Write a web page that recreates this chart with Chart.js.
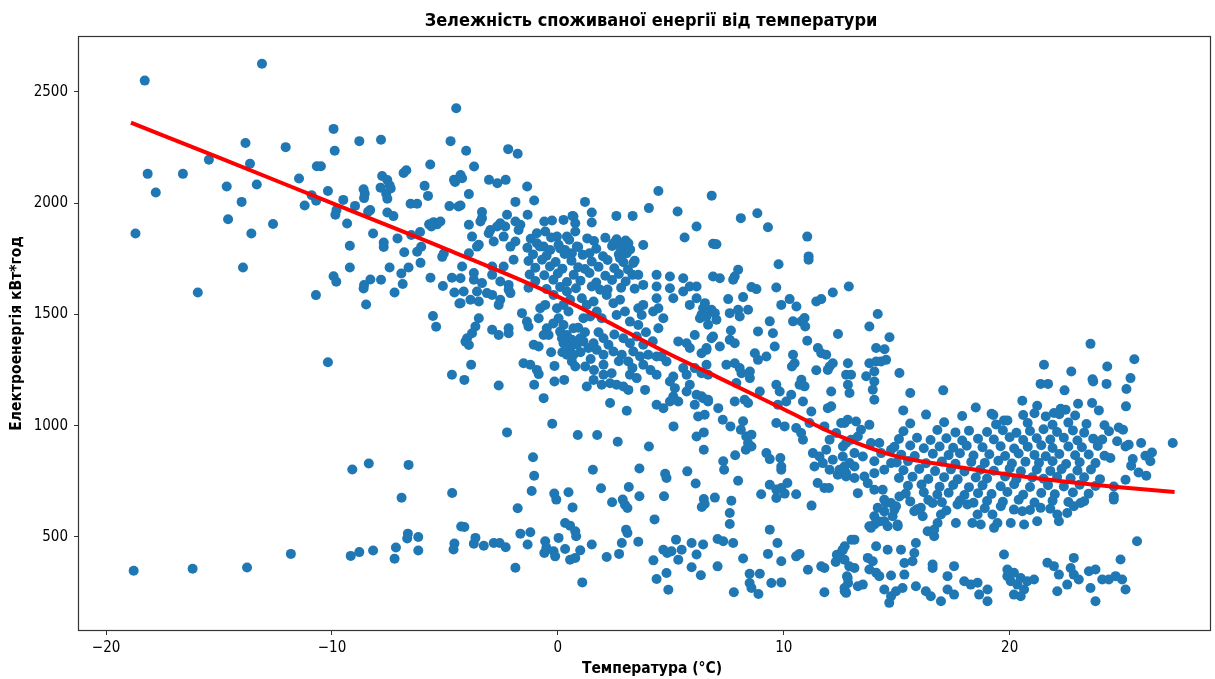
<!DOCTYPE html>
<html>
<head>
<meta charset="utf-8">
<script src="https://cdn.jsdelivr.net/npm/chart.js@4.4.0/dist/chart.umd.min.js"></script>
<style>
  html, body { margin: 0; padding: 0; background: #fff; }
  #wrap { width: 1215px; height: 679px; }
</style>
</head>
<body>
<div id="wrap"><canvas id="chart" width="1215" height="679"></canvas></div>
<script>
// Texts
const titleText = 'Зележність споживаної енергії від температури';
const xAxisLabel = 'Температура (°C)';
const yAxisLabel = 'Електроенергія кВт*год';

// Tick values
const xTicks = [-20, -10, 0, 10, 20];
const yTicks = [500, 1000, 1500, 2000, 2500];

// Fitted trend curve: temperature (°C) -> energy (kWh)
const fitTemp   = [-18.9, -15, -10, -5, 0, 5, 7, 10, 12.5, 15, 17.5, 20, 22.5, 25, 27.3];
const fitEnergy = [2362, 2205, 2000, 1796, 1580, 1319, 1222, 1074, 952, 862, 818, 780, 748, 722, 702];

// Observations: [temperature °C, energy kWh]
const readingsCold = [
  [-18.29,2551],[-13.1,2627],[-4.5,2427],[-9.93,2334],[-13.83,2271],[-12.05,2252],[-8.79,2279],[-7.83,2285],
  [-9.88,2236],[-4.75,2279],[-15.45,2195],[-13.63,2177],[-18.16,2132],[-16.6,2132],[-17.8,2048],[-14.66,2075],
  [-13.33,2084],[-14.0,2006],[-14.6,1928],[-13.57,1864],[-12.61,1907],[-18.7,1864],[-13.94,1711],[-15.94,1599],
  [-10.71,1587],[-11.46,2111],[-10.67,2166],[-10.49,2166],[-10.18,2055],[-11.21,1990],[-10.9,2036],[-10.7,2011],
  [-9.5,2015],[-9.8,1969],[-9.85,1948],[-9.33,1909],[-9.21,1809],[-9.21,1711],[-9.93,1672],[-9.81,1647],
  [-8.98,1988],[-8.6,2063],[-8.55,2043],[-8.58,2023],[-8.31,1969],[-8.4,1962],[-8.18,1864],[-8.3,1657],
  [-8.58,1632],[-8.6,1617],[-8.49,1545],[-7.83,1656],[-7.78,2122],[-7.55,2104],[-7.85,2070],[-7.45,2081],
  [-7.6,2043],[-7.55,2020],[-7.4,2066],[-7.55,1958],[-7.28,1942],[-7.71,1823],[-7.71,1803],[-7.1,1842],
  [-6.8,1780],[-7.45,1711],[-6.61,1711],[-6.93,1684],[-6.87,1637],[-7.23,1599],[-6.83,2136],[-6.71,2148],
  [-6.52,1998],[-6.23,1998],[-5.65,2174],[-5.9,2078],[-5.75,2033],[-4.8,1987],[-5.7,1905],[-5.5,1915],
  [-5.35,1905],[-5.2,1918],[-5.6,1895],[-6.49,1857],[-6.1,1871],[-6.23,1782],[-6.05,1804],[-6.08,1732],
  [-5.05,1774],[-5.12,1759],[-5.64,1665],[-5.09,1628],[-4.69,1665],[-4.58,1599],[-4.36,1549],[-5.53,1493],
  [-5.39,1445],[-4.55,2095],[-4.6,2105],[-4.4,1985],
  [-10.18,1285],[-4.69,1229],[-9.1,803],[-8.37,830],[-6.61,824],[-6.92,676],[-4.68,698],[-18.78,348],
  [-16.17,357],[-13.76,363],[-11.82,424],[-9.17,415],[-8.79,432],[-8.18,439],[-7.17,453],[-7.23,402],
  [-6.64,515],[-6.67,493],[-6.18,500],[-6.18,439],[-4.58,471],[-4.62,444],[-4.28,547]
];

const readingsMild = [
  [-4.06,2236],[-2.2,2243],[-1.78,2222],[-3.71,2165],[-4.31,2127],[-4.24,2112],[-3.05,2105],[-2.68,2090],
  [-2.31,2105],[-1.36,2075],[-3.94,2041],[-4.31,1990],[-1.88,2006],[-1.05,2012],[1.2,2006],[4.45,2055],
  [4.03,1978],[5.3,1963],[6.81,2034],[6.14,1895],[5.61,1846],[6.87,1818],[2.59,1943],[3.31,1943],
  [3.78,1812],[1.5,1958],[1.5,1913],[0.65,1943],[-1.34,1948],[-3.36,1960],[-3.36,1933],[-3.94,1903],
  [-3.8,1850],[-3.5,1813],
  [-2.99,1880],[-2.55,1910],[-2.25,1948],[-1.88,1918],[-1.66,1903],[-2.84,1828],[-2.4,1850],[-2.1,1805],
  [-1.88,1828],[-3.06,1865],[-2.69,1895],[-2.33,1895],[-1.74,1880],[-3.43,1918],[-3.58,1805],[-1.96,1746],
  [-2.4,1716],[-4.24,1716],[-4.31,1663],[-3.72,1686],[-3.72,1656],[-3.36,1641],[-2.91,1716],[-2.91,1678],
  [-2.55,1648],[-2.18,1633],[-3.94,1775],
  [-0.93,1865],[-0.6,1918],[-0.26,1922],[0.25,1925],[0.69,1940],[0.77,1910],[-0.56,1873],[-0.04,1850],
  [0.4,1850],[0.77,1873],[-0.93,1820],[-0.63,1805],[-0.34,1790],[0.03,1813],[0.32,1790],[0.62,1775],[0.84,1805],
  [-1.2,1840],[-0.3,1846],[0.5,1836],[1.3,1842],[1.6,1830],[2.1,1845],[2.6,1838],[3.0,1832],
  [-1.35,1800],[-0.8,1806],[0.1,1797],[0.9,1803],[1.7,1795],[2.4,1808],[2.9,1800],[3.2,1792],
  [-1.1,1770],[-0.5,1764],[0.3,1772],[1.1,1768],[1.4,1775],[2.0,1762],[2.7,1770],
  [-1.3,1740],[-0.7,1746],[-0.1,1736],[0.6,1742],[1.5,1738],[2.2,1745],[2.9,1735],[3.4,1741],
  [-1.0,1710],[-0.35,1716],[0.2,1706],[0.9,1712],[1.2,1704],[1.8,1714],[2.5,1708],[3.1,1702],
  [-1.25,1680],[-0.6,1676],[0.0,1684],[0.7,1678],[1.4,1686],[2.1,1674],[2.7,1682],[3.3,1678],
  [-1.0,1650],[-0.2,1656],[0.4,1646],[1.0,1652],[1.7,1644],[2.4,1655],[3.0,1648],
  [-1.3,1620],[-0.5,1614],[0.1,1624],[0.8,1618],[1.5,1626],[2.2,1612],[2.8,1620],[3.4,1616],
  [2.46,1820],[2.75,1805],[3.12,1820],[3.34,1731],[2.75,1753],[3.05,1775],[3.56,1678],[4.37,1678],
  [4.96,1671],[5.55,1663],[3.78,1633],[4.37,1626],[5.84,1626],[6.14,1626],[6.87,1671],
  [-4.31,1551],[-3.87,1566],[-3.5,1558],[-3.14,1596],[-2.91,1588],[-2.55,1566],[-2.62,1543],[-2.18,1611],
  [-2.1,1596],[-4.17,1603],[-3.58,1603],[-3.5,1483],[-3.65,1446],[-3.8,1416],[-4.02,1393],[-3.94,1363],
  [-4.09,1378],[-2.91,1431],[-2.62,1408],[-2.18,1438],[-2.18,1416],[-3.84,1274],[-4.14,1206],[-2.62,1181],
  [-0.63,1124],[-1.59,1506],[-1.37,1468],[-1.3,1446],[-1.52,1281],[-1.22,1274],[-0.93,1251],[-0.85,1232],
  [-1.05,1184],[-1.07,1364],[-0.85,1356],[-0.78,1528],[-0.56,1543],[-0.85,1483],[-0.49,1438],[-0.41,1408],
  [-0.63,1408],[-0.15,1269],[-0.15,1199],[0.28,1206],
  [0.03,1483],[0.25,1453],[0.1,1423],[0.4,1408],[0.62,1386],[0.25,1371],[0.54,1349],[0.69,1319],
  [0.62,1289],[0.77,1266],[0.4,1319],[0.18,1393],[0.69,1438],[0.84,1364],[0.99,1393],[-0.04,1528],
  [0.25,1543],[0.47,1513],[-0.19,1588],[0.4,1603],[0.54,1566],[1.21,1266],[1.28,1176],[1.58,1206],
  [1.06,1573],[1.28,1543],[1.58,1558],[1.72,1513],[1.43,1491],[1.13,1483],[1.94,1483],
  [1.13,1379],[1.35,1349],[1.58,1371],[1.72,1341],[2.02,1393],[2.02,1319],[2.02,1274],[2.24,1364],
  [2.46,1334],[2.02,1229],[2.38,1236],[2.31,1191],[1.94,1184],
  [1.87,1611],[2.16,1588],[2.46,1551],[2.75,1566],[2.97,1513],[2.6,1498],[3.19,1468],[3.56,1453],
  [3.56,1528],[3.78,1543],[3.71,1498],[4.22,1513],[4.45,1528],[4.67,1483],
  [2.9,1393],[3.19,1371],[3.49,1401],[3.78,1364],[2.83,1319],[3.34,1334],[3.12,1289],[3.64,1311],
  [4.0,1319],[4.37,1311],[3.78,1274],[3.19,1229],[3.49,1214],[2.9,1176],[3.12,1161],[3.86,1161],
  [2.6,1184],[2.31,1102],[3.05,1067],
  [4.45,1438],[4.59,1311],[4.81,1289],[4.96,1199],[4.37,1229],[5.11,1221],[5.11,1131],[5.18,1169],
  [4.37,1094],[4.67,1079],[4.96,1109],[5.33,1109],[5.7,1154],[5.55,1259],[5.7,1229],[5.84,1184],
  [6.06,1094],[6.14,1139],[6.43,1124],[6.65,1109],[6.21,1042],[6.5,1049],[6.06,1259],[6.36,1326],
  [6.58,1349],[6.8,1393],[6.06,1408],[5.33,1379],[5.7,1371],[5.84,1349],[6.29,1483],[6.43,1528],
  [5.84,1543],[6.14,1573],[5.55,1603],[5.11,1573],[4.37,1573],[4.96,1618],
  [0.9,1440],[1.0,1330],[1.45,1300],[1.8,1420],[2.5,1410],[2.7,1290],[3.3,1260],[3.9,1420],
  [4.2,1380],[4.1,1250],[1.6,1250],[0.2,1330],[-0.3,1330],[-0.2,1460],[1.2,1420]
];

const readingsWarm = [
  [8.1,1933],[8.83,1955],[9.3,1892],[11.04,1850],[6.95,1816],[7.02,1816],[11.1,1761],[11.1,1746],
  [9.77,1726],[7.98,1701],[7.83,1671],[7.76,1656],[7.17,1663],[8.57,1623],[8.79,1614],[9.67,1621],
  [12.17,1599],[12.88,1626],[11.44,1558],[11.66,1569],[10.26,1569],[10.56,1536],[9.89,1543],[8.2,1578],
  [7.54,1569],[14.16,1502],[13.79,1446],[12.4,1412],[14.68,1398],
  [6.8,1521],[6.95,1506],[6.58,1491],[6.65,1454],[6.36,1499],[7.02,1476],[6.51,1551],
  [7.61,1506],[7.98,1521],[8.05,1491],[8.42,1521],[7.66,1428],[7.61,1386],[7.83,1371],
  [9.38,1469],[9.52,1416],[8.86,1424],[10.41,1469],[10.78,1469],[10.92,1484],[10.95,1446],
  [11.04,1382],[9.6,1356],[7.17,1356],[6.87,1401],[6.58,1341],[11.51,1349],[11.66,1326],[11.88,1319],
  [8.72,1326],[8.86,1296],[9.23,1311],[10.41,1319],[10.48,1281],[10.36,1266],
  [7.46,1274],[7.83,1281],[8.05,1259],[8.13,1236],[8.5,1244],[8.5,1214],[7.9,1192],
  [11.44,1249],[12.03,1266],[12.17,1281],[11.95,1251],[12.84,1281],[12.76,1229],[12.98,1229],
  [13.79,1281],[14.09,1289],[14.31,1289],[14.53,1296],[14.09,1349],[14.46,1344],
  [14.01,1244],[13.65,1222],[14.01,1199],[13.94,1162],[14.01,1117],[12.84,1184],[12.91,1147],
  [15.12,1237],[15.6,1147],[15.29,1069],[17.06,1159],
  [10.78,1207],[10.92,1177],[10.7,1184],[10.33,1139],[10.85,1109],[9.67,1184],[9.82,1154],[8.94,1154],
  [8.42,1102],[12.1,1154],[11.95,1079],[12.1,1087],[11.22,1064],
  [7.83,1109],[8.27,1117],[6.65,1117],[7.1,1079],[6.36,1132],[10.11,1109],[9.74,1094],
  [6.36,1236],[6.65,1229],[6.58,1274],
  [9.67,1012],[10.04,997],[10.55,990],[10.85,937],[11.29,877],[11.88,892],[12.17,847],[12.47,802],
  [12.76,772],[12.91,832],[12.32,967],[12.69,1012],[11.8,997],[12.03,937],[11.73,832],[12.03,802],
  [12.39,780],[12.62,907],[12.98,937],[13.13,877],[11.36,817],[11.58,862],[10.77,967],[11.14,1012],
  [-2.25,970],[-0.25,1009],[0.88,958],[1.74,958],[2.65,928],[4.03,907],[5.12,997],[-1.1,858],
  [-1.05,775],[-1.16,707],[-1.78,629],[1.55,802],[1.91,719],[3.14,725],[3.61,808],[3.61,683],
  [2.4,656],[2.87,668],[2.97,645],[3.08,630],[-0.16,695],[-0.07,668],[0.47,701],[0.65,633],
  [4.75,784],[4.81,765],[4.7,683],[4.28,579],[5.73,795],[6.1,740],[6.46,671],[6.37,635],
  [6.5,648],[6.95,677],[6.14,952],[6.46,970],[6.46,892],[7.32,840],[7.36,802],[7.85,867],
  [7.98,753],[7.68,663],[7.61,608],[7.61,558],[7.3,1027],[7.64,997],[8.2,1020],[8.1,982],
  [8.34,952],[8.57,960],[8.42,922],[8.32,892],[8.57,907],[9.23,877],[9.38,850],[9.85,855],
  [9.89,817],[9.89,802],[9.0,692],[9.38,735],[9.67,713],[9.89,720],[10.16,743],[9.67,675],
  [10.04,695],[10.55,692],[11.23,641],[11.5,743],[11.8,720],[12.0,720]
];

const readingsLow = [
  [-4.14,545],[-3.65,496],[-3.72,470],[-3.28,461],[-2.84,473],[-2.58,473],[-2.31,454],[-1.88,362],
  [-1.66,515],[-1.22,521],[-1.34,466],[-0.56,481],[-0.51,451],[-0.6,428],[-0.19,436],[-0.12,413],
  [0.03,496],[0.32,446],[0.32,563],[0.54,551],[0.77,526],[0.81,503],[0.54,398],[0.77,406],
  [0.99,440],[1.08,296],[1.5,466],[2.16,410],[2.71,424],[2.83,473],[3.02,533],[3.08,518],
  [3.56,479],[4.23,395],[4.37,311],[4.81,338],[4.89,263],[4.67,443],[4.84,428],[5.03,436],
  [5.23,488],[5.33,398],[5.48,443],[5.92,473],[6.14,421],[6.43,466],[5.92,364],[6.33,328],
  [7.07,491],[7.32,481],[7.76,473],[7.07,368],[8.2,403],[8.49,335],[8.49,293],[8.94,335],
  [8.57,271],[8.88,244],[7.79,252],[9.38,533],[9.72,473],[9.3,424],[9.89,391],[9.45,293],
  [9.89,296],[10.55,413],[10.7,424],[11.07,353],[11.66,368],[11.8,361],[11.8,252],[12.3,388],
  [12.45,410],[12.6,440],[12.35,420],[12.7,458],[12.9,368],[12.8,323],[12.85,293],[12.7,256],[13.0,488],
  [13.13,488],[14.09,458],[14.6,443],[15.19,443],[15.85,473],[15.7,391],[15.78,428],[15.34,383],
  [12.61,443],[12.69,398],[13.13,361],[12.83,316],[12.69,271],[12.76,249],[13.28,279],[13.5,286],
  [13.72,406],[13.94,391],[13.79,354],[14.09,339],[14.23,324],[14.75,327],[14.45,264],[14.75,234],
  [14.67,204],[14.97,256],[15.26,271],[15.34,331],[15.85,279],[16.29,256],[16.51,234],[16.59,376],
  [16.59,361],[16.96,211],[17.25,324],[17.25,264],[17.54,369],[17.54,241],[17.99,301],[18.28,286],
  [18.58,294],[18.65,241],[19.02,264],[19.02,211],[19.75,421],
  [19.9,324],[20.05,301],[20.19,339],[20.34,286],[20.49,316],[20.64,264],[20.78,301],[21.08,309],
  [20.19,241],[20.49,234],[19.9,354],
  [21.67,384],[21.96,369],[22.18,331],[22.11,256],[22.55,286],[22.7,361],[22.84,331],[23.06,309],
  [22.84,406],[23.51,346],[23.8,354],[23.58,271],[23.8,211],[24.1,309],[24.39,309],[24.91,399],
  [24.98,309],[25.13,264],[24.69,324],[25.64,481]
];

const readingsSummer = [
  [18.5,1082],[19.28,1048],[20.56,1112],[19.75,1024],[19.9,1024],[21.52,1274],[21.37,1188],[21.7,1188],
  [22.43,1159],[22.73,1244],[23.58,1368],[23.67,1209],[23.7,1199],[24.32,1266],[24.29,1188],[25.52,1299],
  [25.35,1214],[25.17,1165],[25.15,1087],[23.03,1099],[23.65,1102],[23.95,1069],[21.22,1090],[22.26,1076],
  [22.48,1072],[21.96,1057],[27.22,922],[25.82,922],[26.01,865],[26.3,880],[26.23,840],[25.71,790],
  [26.05,775],[25.45,850],[25.38,820],[25.13,757],[24.83,992],[25.02,982],[24.76,930],[25.13,907],
  [25.27,915],[24.46,855],[24.61,727],[24.61,683],
  [12.54,1012],[12.83,1027],[13.2,1019],[13.42,982],[13.79,1004],[13.28,952],[12.76,922],[12.61,862],
  [12.69,817],[13.13,817],[13.5,862],[13.86,922],[14.23,922],[14.31,877],[14.01,840],[14.75,892],
  [14.75,832],[14.45,802],[14.01,787],[13.57,772],[13.13,765],[12.76,787],[13.28,697],[13.72,742],
  [14.01,712],[14.38,712],[14.45,667],[14.75,653],[15.12,682],[14.9,623],[14.45,615],[14.01,593],
  [14.23,570],[13.79,548],[14.6,548],[15.04,548],[14.82,593],
  [16.3,1050],[17.9,1044],[19.2,1054],[20.6,1048],[21.1,1056],[21.6,1042],[22.2,1052],[22.9,1046],
  [15.6,1010],[17.1,1016],[19.4,1006],[20.8,1012],[21.9,1004],[22.6,1014],[23.4,1008],[24.2,1002],
  [15.3,975],[16.8,981],[17.6,970],[18.2,978],[19.0,972],[19.7,980],[20.3,968],[20.9,976],
  [21.5,984],[22.1,972],[22.8,979],[23.3,969],[24.4,975],
  [15.1,940],[15.9,946],[16.5,936],[17.2,944],[17.9,934],[18.6,942],[19.3,938],[20.0,948],
  [20.6,936],[21.2,944],[21.8,938],[22.4,946],[23.0,934],[23.7,942],[24.1,938],
  [14.9,905],[15.6,911],[16.2,899],[16.9,907],[17.5,901],[18.1,910],[18.8,903],[19.6,908],
  [20.2,898],[20.8,906],[21.4,912],[21.9,900],[22.6,907],[23.2,903],[23.9,909],
  [15.2,870],[15.8,864],[16.6,874],[17.3,868],[17.8,876],[18.4,866],[19.1,872],[19.8,864],
  [20.4,875],[21.1,869],[21.6,863],[22.2,873],[22.9,867],[23.5,871],[24.2,865],
  [15.0,835],[15.5,841],[16.3,831],[17.0,839],[17.6,829],[18.3,837],[18.9,833],[19.5,843],
  [20.1,830],[20.7,838],[21.3,834],[21.9,840],[22.5,828],[23.1,836],[23.8,832],
  [15.3,800],[16.0,806],[16.7,796],[17.4,804],[18.0,794],[18.7,802],[19.3,798],[20.0,808],
  [20.5,795],[21.2,803],[21.8,797],[22.3,805],[23.0,799],[23.6,803],
  [15.1,765],[15.7,771],[16.4,761],[17.1,769],[17.7,759],[18.5,767],[19.0,763],[19.8,772],
  [20.3,760],[21.0,768],[21.5,762],[22.1,770],[22.7,764],[23.3,768],[24.0,760],
  [15.5,730],[16.1,736],[16.9,726],[17.5,734],[18.2,724],[18.8,732],[19.6,728],[20.2,737],
  [20.9,725],[21.7,733],[22.4,727],[23.1,735],[23.8,729],
  [15.4,695],[16.2,701],[16.8,691],[17.3,699],[18.0,689],[18.6,697],[19.2,693],[19.9,702],
  [20.6,690],[21.4,698],[22.0,692],[22.8,700],[23.5,694],
  [15.6,660],[16.4,666],[17.0,656],[17.8,664],[18.4,654],[19.0,662],[19.7,658],[20.4,667],
  [21.1,655],[21.9,663],[22.6,657],[23.3,661],
  [15.9,625],[17.2,619],[18.9,629],[20.9,621],[21.8,627],
  [14.16,631],[14.53,653],[14.97,638],[14.01,556],[13.86,541],[14.45,571],[15.04,556],[15.78,616],
  [16.15,593],[16.07,631],[16.59,653],[16.96,601],[16.81,563],[16.37,526],[16.66,503],[16.66,533],
  [17.62,563],[17.69,646],[18.13,646],[18.35,563],[18.72,556],[18.58,601],[19.24,601],[19.31,541],
  [19.46,563],[19.61,638],[20.05,563],[20.19,623],[20.56,616],[20.64,556],[21.22,571],[21.37,631],
  [22.11,601],[22.18,571],[22.55,608],[22.84,638],[23.14,653],[24.61,668]
];

const readings = readingsCold.concat(readingsMild, readingsWarm, readingsLow, readingsSummer);

const FONT = "'DejaVu Sans Condensed', 'DejaVu Sans', sans-serif";
const minus = v => (v < 0 ? '\u2212' + Math.abs(v) : String(v));

// Axes frame drawn on all four sides
const frame = {
  id: 'frame',
  afterDatasetsDraw(chart) {
    const { ctx, chartArea: a } = chart;
    ctx.save();
    ctx.strokeStyle = '#333';
    ctx.lineWidth = 1.2;
    ctx.strokeRect(Math.round(a.left) - 0.5, Math.round(a.top) - 0.5,
                   Math.round(a.right - a.left) + 1, Math.round(a.bottom - a.top) + 1);
    ctx.restore();
  }
};

// Chart title and x-axis caption
const captions = {
  id: 'captions',
  afterDraw(chart) {
    const { ctx, chartArea: a } = chart;
    const cx = (a.left + a.right) / 2;
    ctx.save();
    ctx.fillStyle = '#000';
    ctx.textAlign = 'center';
    ctx.textBaseline = 'middle';
    ctx.font = "bold 18px " + FONT;
    ctx.fillText(titleText, cx + 6.5, 21);
    ctx.font = "bold 15.5px " + FONT;
    ctx.fillText(xAxisLabel, cx + 7.5, 669);
    ctx.restore();
  }
};

new Chart(document.getElementById('chart'), {
  type: 'scatter',
  data: {
    datasets: [
      {
        type: 'line',
        label: 'trend',
        data: fitTemp.map((t, i) => ({ x: t, y: fitEnergy[i] })),
        borderColor: '#ff0000',
        borderWidth: 4,
        pointRadius: 0,
        fill: false,
        cubicInterpolationMode: 'monotone'
      },
      {
        label: 'readings',
        data: readings.map(p => ({ x: p[0], y: p[1] })),
        backgroundColor: '#1f77b4',
        borderWidth: 0,
        pointRadius: 5,
        pointHoverRadius: 5
      }
    ]
  },
  options: {
    responsive: false,
    animation: false,
    devicePixelRatio: 1,
    layout: { padding: { left: 0, right: 5, top: 37, bottom: 0 } },
    plugins: { legend: { display: false }, tooltip: { enabled: false }, title: { display: false } },
    scales: {
      x: {
        type: 'linear',
        min: -21.2,
        max: 28.87,
        afterBuildTicks: ax => { ax.ticks = xTicks.map(v => ({ value: v })); },
        afterFit: s => { s.height = 49; },
        ticks: { callback: v => minus(v), color: '#000', padding: 4, maxRotation: 0,
                 font: { family: FONT, size: 15 } },
        grid: { drawOnChartArea: false, drawTicks: true, tickLength: 5, color: '#333' },
        border: { display: false },
        title: { display: false }
      },
      y: {
        type: 'linear',
        min: 82,
        max: 2747,
        afterBuildTicks: ax => { ax.ticks = yTicks.map(v => ({ value: v })); },
        afterFit: s => { s.width = 79; },
        ticks: { callback: v => String(v), color: '#000', padding: 6, font: { family: FONT, size: 15 } },
        grid: { drawOnChartArea: false, drawTicks: true, tickLength: 5, color: '#333' },
        border: { display: false },
        title: { display: true, text: yAxisLabel, color: '#000',
                 font: { family: FONT, size: 15.5, weight: 'bold' }, padding: { top: 8, bottom: 0 } }
      }
    }
  },
  plugins: [frame, captions]
});
</script>
</body>
</html>
